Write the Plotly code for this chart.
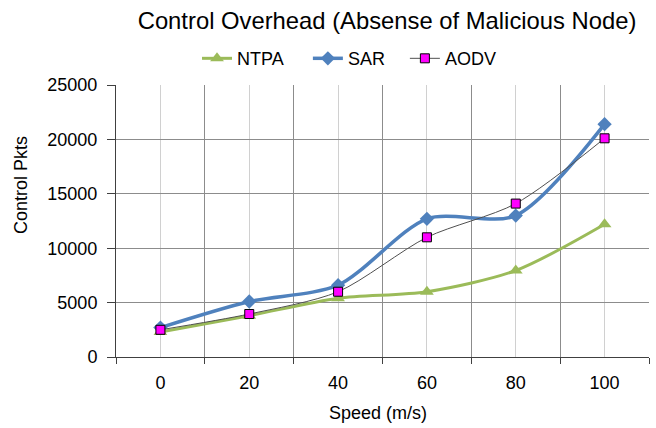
import plotly.graph_objects as go

speeds = [0, 20, 40, 60, 80, 100]
ntpa = [2300, 3800, 5400, 6000, 7950, 12200]
sar = [2700, 5100, 6600, 12700, 13000, 21400]
aodv = [2500, 3950, 6000, 11000, 14100, 20100]
yticks = [0, 5000, 10000, 15000, 20000, 25000]
ytick_text = [str(v) for v in yticks]

font = "Liberation Sans, Arial, sans-serif"

fig = go.Figure()
fig.add_trace(go.Scatter(
    x=speeds, y=ntpa, name="NTPA", mode="lines+markers", legend="legend",
    line=dict(color="#9BBB59", width=3, shape="spline", smoothing=0.8),
    marker=dict(symbol="triangle-up", size=12, color="#9BBB59")))
fig.add_trace(go.Scatter(
    x=speeds, y=sar, name="SAR", mode="lines+markers", legend="legend2",
    line=dict(color="#4F81BD", width=3.5, shape="spline", smoothing=0.8),
    marker=dict(symbol="diamond", size=11, color="#4F81BD")))
fig.add_trace(go.Scatter(
    x=speeds, y=aodv, name="AODV", mode="lines+markers", legend="legend3",
    line=dict(color="#505050", width=1, shape="spline", smoothing=0.8),
    marker=dict(symbol="square", size=9, color="#FF00FF",
                line=dict(color="#000000", width=1))))

leg = dict(orientation="h", xanchor="left", y=1.097, yanchor="middle",
           font=dict(size=18, family=font, color="#000000"),
           bgcolor="rgba(0,0,0,0)")

fig.update_layout(
    width=656, height=428,
    margin=dict(l=116, r=7, t=85, b=71),
    paper_bgcolor="white", plot_bgcolor="white",
    font=dict(family=font, color="#000000", size=18),
    title=dict(text="Control Overhead (Absense of Malicious Node)",
               x=0.59, xanchor="center", y=0.951, yanchor="middle",
               font=dict(size=23.8, family=font, color="#000000")),
    legend=dict(leg, x=0.152),
    legend2=dict(leg, x=0.360),
    legend3=dict(leg, x=0.542),
    showlegend=True,
)
fig.update_xaxes(
    range=[-10, 110], tickvals=speeds, ticks="outside", ticklen=9,
    tickcolor="rgba(0,0,0,0)",
    showgrid=True, gridcolor="#D0D0D0", gridwidth=1,
    showline=True, linecolor="#404040", linewidth=1, mirror=False,
    zeroline=False,
    minor=dict(tick0=-10, dtick=20, ticks="outside", ticklen=6,
               tickcolor="#404040", showgrid=True, gridcolor="#8C8C8C",
               gridwidth=1),
    tickfont=dict(size=18),
)
fig.update_yaxes(
    range=[0, 25000], tickvals=yticks, ticktext=ytick_text,
    ticks="outside", ticklen=8, ticklabelstandoff=6,
    tickcolor="#404040",
    showgrid=True, gridcolor="#8C8C8C", gridwidth=1,
    showline=True, linecolor="#404040", linewidth=1,
    zeroline=False,
    tickfont=dict(size=18),
)
fig.add_annotation(text="Speed (m/s)", xref="paper", yref="paper",
                   x=(378 - 116) / 533, y=(357 - 413) / 272,
                   xanchor="center", yanchor="middle", showarrow=False,
                   font=dict(size=18, family=font, color="#000000"))
fig.add_annotation(text="Control Pkts", xref="paper", yref="paper",
                   x=(21 - 116) / 533, y=(357 - 185) / 272, textangle=-90,
                   xanchor="center", yanchor="middle", showarrow=False,
                   font=dict(size=18, family=font, color="#000000"))

fig.write_html("out.html")
